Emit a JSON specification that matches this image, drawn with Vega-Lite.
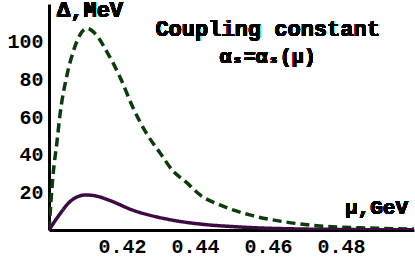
{
  "$schema": "https://vega.github.io/schema/vega-lite/v6.json",
  "width": 365,
  "height": 226,
  "autosize": {"type": "none"},
  "padding": {"left": 49, "top": 4, "right": 1, "bottom": 27},
  "background": "white",
  "config": {
    "view": {"stroke": null},
    "axis": {
      "grid": false,
      "ticks": false,
      "domainColor": "black",
      "domainWidth": 3,
      "labelFont": "Liberation Mono, DejaVu Sans Mono, monospace",
      "labelFontWeight": "bold",
      "labelFontSize": 20,
      "labelColor": "black",
      "title": null
    }
  },
  "data": {
    "values": [
      {"mu": 0.4000, "delta": 0, "series": "dashed"},
      {"mu": 0.4011, "delta": 29, "series": "dashed"},
      {"mu": 0.4022, "delta": 47, "series": "dashed"},
      {"mu": 0.4030, "delta": 61, "series": "dashed"},
      {"mu": 0.4049, "delta": 82, "series": "dashed"},
      {"mu": 0.4066, "delta": 94.5, "series": "dashed"},
      {"mu": 0.4085, "delta": 103.6, "series": "dashed"},
      {"mu": 0.4104, "delta": 107, "series": "dashed"},
      {"mu": 0.4130, "delta": 103.5, "series": "dashed"},
      {"mu": 0.4159, "delta": 94.5, "series": "dashed"},
      {"mu": 0.4195, "delta": 81, "series": "dashed"},
      {"mu": 0.4230, "delta": 65, "series": "dashed"},
      {"mu": 0.4268, "delta": 51, "series": "dashed"},
      {"mu": 0.4304, "delta": 41, "series": "dashed"},
      {"mu": 0.4339, "delta": 31.5, "series": "dashed"},
      {"mu": 0.4378, "delta": 25, "series": "dashed"},
      {"mu": 0.4414, "delta": 18.6, "series": "dashed"},
      {"mu": 0.4468, "delta": 13.3, "series": "dashed"},
      {"mu": 0.4550, "delta": 8, "series": "dashed"},
      {"mu": 0.4640, "delta": 4.5, "series": "dashed"},
      {"mu": 0.4734, "delta": 2.3, "series": "dashed"},
      {"mu": 0.4850, "delta": 1.2, "series": "dashed"},
      {"mu": 0.5000, "delta": 0.5, "series": "dashed"},
      {"mu": 0.4000, "delta": 0, "series": "solid"},
      {"mu": 0.4028, "delta": 8, "series": "solid"},
      {"mu": 0.4056, "delta": 14.8, "series": "solid"},
      {"mu": 0.4080, "delta": 17.8, "series": "solid"},
      {"mu": 0.4100, "delta": 18.6, "series": "solid"},
      {"mu": 0.4130, "delta": 18, "series": "solid"},
      {"mu": 0.4165, "delta": 15.8, "series": "solid"},
      {"mu": 0.4230, "delta": 10.5, "series": "solid"},
      {"mu": 0.4323, "delta": 5.8, "series": "solid"},
      {"mu": 0.4433, "delta": 2.8, "series": "solid"},
      {"mu": 0.4505, "delta": 1.8, "series": "solid"},
      {"mu": 0.4590, "delta": 1.0, "series": "solid"},
      {"mu": 0.4700, "delta": 0.5, "series": "solid"},
      {"mu": 0.4850, "delta": 0.2, "series": "solid"},
      {"mu": 0.5000, "delta": 0.1, "series": "solid"}
    ]
  },
  "layer": [
    {
      "mark": {"type": "line", "strokeWidth": 3.5, "interpolate": "monotone", "clip": true},
      "encoding": {
        "x": {"field": "mu", "type": "quantitative", "scale": {"domain": [0.4, 0.5], "nice": false},
              "axis": {"values": [0.42, 0.44, 0.46, 0.48], "format": ".2f", "labelPadding": 6}},
        "y": {"field": "delta", "type": "quantitative", "scale": {"domain": [0, 120], "nice": false},
              "axis": {"values": [20, 40, 60, 80, 100], "labelPadding": 6}},
        "color": {"field": "series", "type": "nominal", "scale": {"domain": ["dashed", "solid"], "range": ["#0b3d0b", "#3c0b42"]}, "legend": null},
        "strokeDash": {"field": "series", "type": "nominal", "scale": {"domain": ["dashed", "solid"], "range": [[9, 5], [1, 0]]}, "legend": null}
      }
    },
    {
      "mark": {"type": "text", "font": "Liberation Mono, DejaVu Sans Mono, monospace", "fontWeight": "bold", "fontSize": 22, "align": "center", "baseline": "alphabetic", "color": "black"},
      "encoding": {"x": {"datum": 0.4599}, "y": {"datum": 103}, "text": {"value": "Coupling constant"}}
    },
    {
      "mark": {"type": "text", "font": "Liberation Mono, DejaVu Sans Mono, monospace", "fontWeight": "bold", "fontSize": 20, "align": "center", "baseline": "alphabetic", "color": "black"},
      "encoding": {"x": {"datum": 0.4599}, "y": {"datum": 88.5}, "text": {"value": "αₛ=αₛ(μ)"}}
    },
    {
      "mark": {"type": "text", "font": "Liberation Mono, DejaVu Sans Mono, monospace", "fontWeight": "bold", "fontSize": 22, "align": "left", "baseline": "alphabetic", "color": "black"},
      "encoding": {"x": {"datum": 0.4022}, "y": {"datum": 113}, "text": {"value": "Δ,MeV"}}
    },
    {
      "mark": {"type": "text", "font": "Liberation Mono, DejaVu Sans Mono, monospace", "fontWeight": "bold", "fontSize": 21, "align": "left", "baseline": "alphabetic", "color": "black"},
      "encoding": {"x": {"datum": 0.4811}, "y": {"datum": 8.5}, "text": {"value": "μ,GeV"}}
    }
  ]
}
